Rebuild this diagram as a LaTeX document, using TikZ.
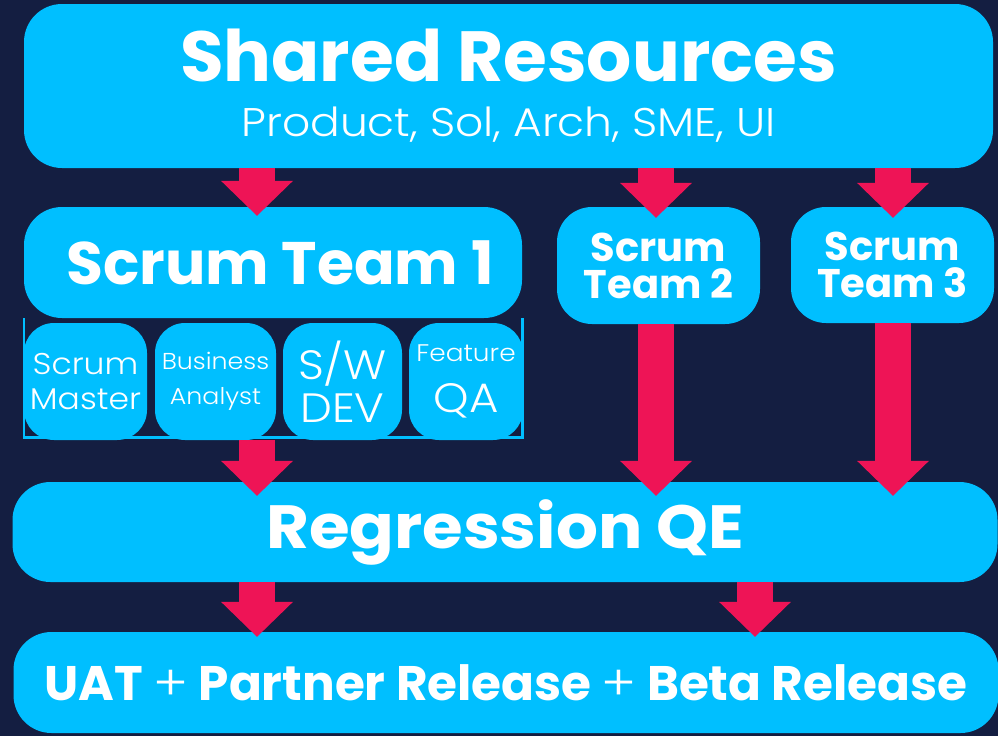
\documentclass[tikz,border=0pt]{standalone}
\usepackage{fontspec}
\setmainfont{Poppins}
\IfFontExistsTF{Poppins Light}
  {\newfontfamily\lightfont[FakeStretch=1.1]{Poppins Light}}
  {\newfontfamily\lightfont[FakeStretch=1.1]{Poppins}}
\newfontfamily\widebold[FakeStretch=1.08]{Poppins}
\usetikzlibrary{arrows.meta,calc}
\definecolor{bg}{HTML}{141E41}
\definecolor{boxc}{HTML}{00BFFF}
\definecolor{arr}{HTML}{EE1456}
\newcommand\fs[2]{\fontsize{#1}{#2}\selectfont}
\begin{document}
\begin{tikzpicture}[x=1pt,y=-1pt,
  box/.style={fill=boxc, draw=none, rounded corners=#1, inner sep=0pt, text=white, align=center},
  box/.default=38pt,
  fat/.style={draw=arr, line width=36pt, -{Triangle[width=72pt,length=35pt,line width=0pt]}},
]
\fill[bg] (0,0) rectangle (998,736);
\useasboundingbox (0,0) rectangle (998,736);
\coordinate (cA) at (257,0);
\coordinate (cB) at (656,0);
\coordinate (cC) at (893,0);
\coordinate (cD) at (755,0);

\node[box, minimum width=969pt, minimum height=164pt, font=\fs{71}{55}] (sr) at (508.5,86)
  {\bfseries Shared Resources\\\lightfont\fs{40}{55}Product, Sol, Arch, SME, UI};

\draw[boxc, line width=2.5pt] (24,318) -- (24,437.5) -- (522.5,437.5) -- (522.5,318);

\node[box, minimum width=498pt, minimum height=111pt, font=\fs{60}{60}\bfseries] (st1) at (273,262.5)
  {\hspace*{14pt}Scrum Team 1};
\node[box=30pt, minimum width=123pt, minimum height=117pt, font=\lightfont\fs{30}{35}] (sm) at (85.5,381.5) {Scrum\\Master};
\node[box=30pt, minimum width=121pt, minimum height=117pt, font=\lightfont\fs{23}{35}] (ba) at (215.5,381.5) {Business\\Analyst};
\node[box=30pt, minimum width=119pt, minimum height=117pt, font=\lightfont\fs{41}{43}] (sw) at (342.5,381.5) {S/W\\DEV};
\node[box=30pt, minimum width=114pt, minimum height=117pt, font=\lightfont\fs{24}{51}] (qa) at (466,381.5) {Feature\\\fs{41}{51}QA};

\node[box=35pt, minimum width=203pt, minimum height=117pt, font=\fs{40}{37}\bfseries] (st2) at (658.5,265.5) {Scrum\\Team 2};
\node[box=35pt, minimum width=203pt, minimum height=116pt, font=\fs{40}{37}\bfseries] (st3) at (892.5,265) {Scrum\\Team 3};

\node[box, minimum width=985pt, minimum height=100pt, font=\widebold\fs{61}{61}\bfseries] (rq) at (505,532) {Regression QE};
\node[box, minimum width=985pt, minimum height=101pt, font=\fs{48.5}{50}] (uat) at (506,682.5)
  {\bfseries UAT {\lightfont\mdseries +} Partner Release {\lightfont\mdseries +} Beta Release};

\draw[fat] (sr.south -| cA) -- ($(st1.north -| cA)+(0,9)$);
\draw[fat] (sr.south -| cB) -- ($(st2.north -| cB)+(0,11)$);
\draw[fat] (sr.south -| cC) -- ($(st3.north -| cC)+(0,11)$);
\draw[fat] (sm.south -| cA) -- ($(rq.north -| cA)+(0,14)$);
\draw[fat] (st2.south -| cB) -- ($(rq.north -| cB)+(0,14)$);
\draw[fat] (st3.south -| cC) -- ($(rq.north -| cC)+(0,14)$);
\draw[fat] (rq.south -| cA) -- ($(uat.north -| cA)+(0,5)$);
\draw[fat] (rq.south -| cD) -- ($(uat.north -| cD)+(0,5)$);
\end{tikzpicture}
\end{document}
